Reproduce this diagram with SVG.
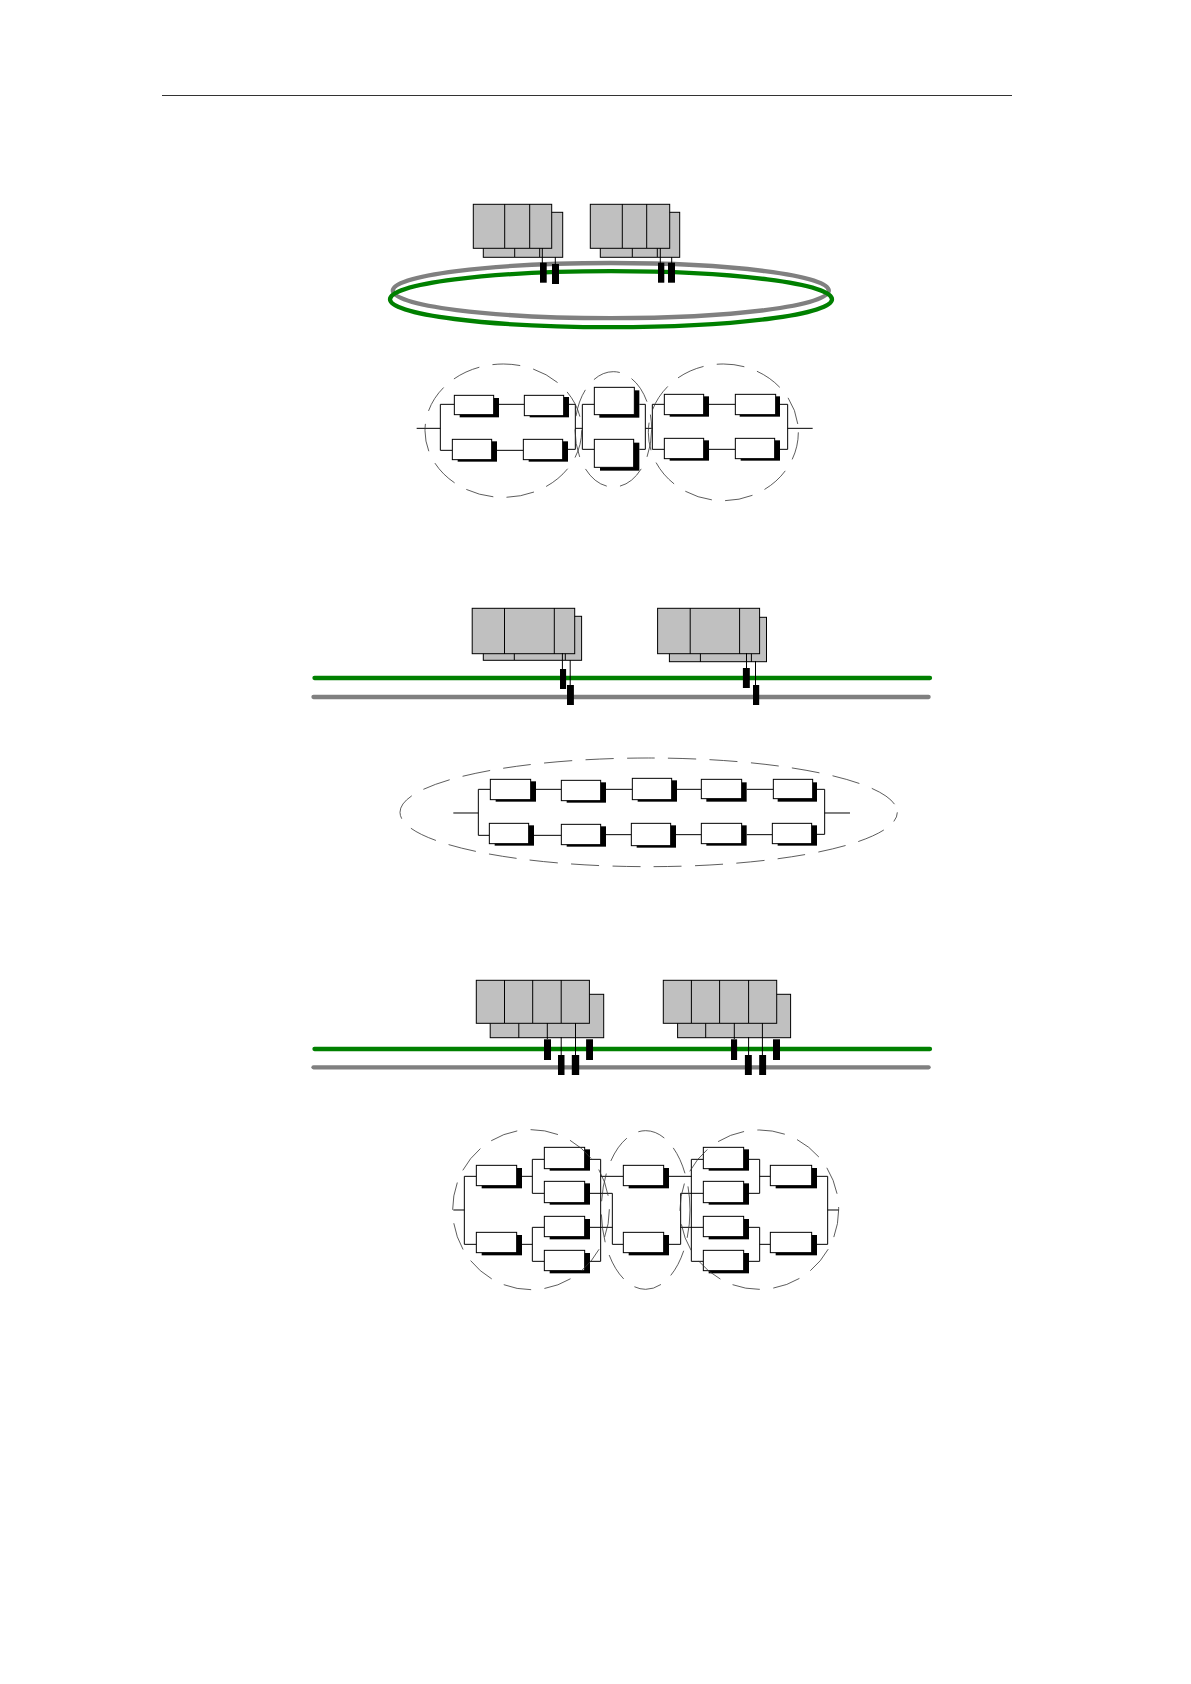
<svg xmlns="http://www.w3.org/2000/svg" width="1191" height="1684" viewBox="0 0 1191 1684">
<style>
.bg{fill:#fff}
.rule{stroke:#333;stroke-width:1;fill:none}
.mod{fill:#c0c0c0;stroke:#000;stroke-width:1}
.div{stroke:#000;stroke-width:1;fill:none}
.tap{fill:#000}
.gn{stroke:#008000;stroke-width:4.3;fill:none;stroke-linecap:round}
.gy{stroke:#808080;stroke-width:4.3;fill:none;stroke-linecap:round}
.s{fill:#000}
.b{fill:#fff;stroke:#000;stroke-width:3}
.w{stroke:#000;stroke-width:3;fill:none}
.d{stroke:#333;stroke-width:2.4;fill:none;stroke-dasharray:84 40}
</style>
<rect class="bg" width="1191" height="1684"/>
<path class="rule" d="M162 95.5H1012"/>

<g id="bus1">
<ellipse class="gy" cx="610.8" cy="290.6" rx="218" ry="27.6"/>
<ellipse class="gn" cx="611" cy="299.2" rx="221" ry="28"/>
</g>
<g id="rack1a">
<rect class="mod" x="483.3" y="212.3" width="79.4" height="45"/>
<path class="div" d="M514.7 248V257M539.7 248V257"/>
<rect class="mod" x="473.3" y="204.3" width="78.4" height="44"/>
<path class="div" d="M504.7 204V248M529.7 204V248M542.3 248V263M555.3 257V264"/>
<rect class="tap" x="540" y="262.7" width="6.7" height="20"/>
<rect class="tap" x="552" y="264" width="7" height="20"/>
</g>
<g id="rack1b">
<rect class="mod" x="600.3" y="212.3" width="79.4" height="45"/>
<path class="div" d="M632.3 248V257M657.3 248V257"/>
<rect class="mod" x="590.3" y="204.3" width="79.4" height="44"/>
<path class="div" d="M622.3 204V248M646.7 204V248M660.3 248V263M671.7 257V264"/>
<rect class="tap" x="658" y="262.7" width="6.3" height="20"/>
<rect class="tap" x="668" y="262.7" width="7" height="20"/>
</g>

<g id="schema1" transform="matrix(.33333 0 0 .33333 410 355)">
<g id="connectors1"><path class="w" d="M20 220H91M91 148V286M91 148H133M267 148H343M477 148H496M91 286H127M261 286H340M474 283H496M496 148V283M496 220H517M517 148V283M517 148H553M517 283H553M688 148H706M688 283H706M706 148V283M706 220H727M727 148V283M727 148H763M727 283H763M897 148H976M897 283H976M1110 148H1133M1110 283H1133M1133 148V283M1133 220H1208"/></g>
<g id="n1a"><rect class="s" x="149" y="129" width="118" height="58"/><rect class="b" x="133" y="121" width="118" height="58"/></g>
<g id="n1b"><rect class="s" x="359" y="126" width="118" height="61"/><rect class="b" x="343" y="121" width="118" height="61"/></g>
<g id="n1c"><rect class="s" x="143" y="259" width="118" height="61"/><rect class="b" x="127" y="253" width="118" height="61"/></g>
<g id="n1d"><rect class="s" x="356" y="259" width="118" height="61"/><rect class="b" x="340" y="253" width="118" height="61"/></g>
<g id="n1e"><rect class="s" x="568" y="106" width="120" height="82"/><rect class="b" x="553" y="97" width="120" height="82"/></g>
<g id="n1f"><rect class="s" x="570" y="263" width="118" height="84"/><rect class="b" x="553" y="253" width="118" height="84"/></g>
<g id="n1g"><rect class="s" x="779" y="124" width="118" height="61"/><rect class="b" x="763" y="118" width="118" height="61"/></g>
<g id="n1h"><rect class="s" x="989" y="124" width="121" height="61"/><rect class="b" x="976" y="118" width="121" height="61"/></g>
<g id="n1i"><rect class="s" x="779" y="256" width="118" height="61"/><rect class="b" x="763" y="250" width="118" height="61"/></g>
<g id="n1j"><rect class="s" x="992" y="256" width="118" height="61"/><rect class="b" x="976" y="250" width="118" height="61"/></g>
<g id="zones1">
<ellipse class="d" cx="280" cy="227" rx="235" ry="200"/>
<ellipse class="d" cx="610" cy="223" rx="115" ry="173"/>
<ellipse class="d" cx="940" cy="232" rx="225" ry="205"/>
</g>
</g>

<g id="bus2">
<path class="gn" d="M314.5 678H930"/>
<path class="gy" d="M313.5 697H928.6"/>
</g>
<g id="rack2a">
<rect class="mod" x="483.3" y="616.3" width="98.3" height="44"/>
<path class="div" d="M514.3 653V660M565.3 653V660"/>
<rect class="mod" x="472.2" y="608.3" width="102.5" height="45.4"/>
<path class="div" d="M504.5 608V654M554.3 608V654M562.4 653V669M570.2 660V685"/>
<rect class="tap" x="560" y="669" width="6.1" height="20"/>
<rect class="tap" x="567" y="685" width="6.9" height="20"/>
</g>
<g id="rack2b">
<rect class="mod" x="669.4" y="617.3" width="97.1" height="44.4"/>
<path class="div" d="M700.4 653V662M751.4 653V662"/>
<rect class="mod" x="657.6" y="608.3" width="102" height="45.4"/>
<path class="div" d="M690.2 608V654M739.6 608V654M746.5 653V668M755.5 661V685"/>
<rect class="tap" x="742.9" y="668" width="6.9" height="20"/>
<rect class="tap" x="753" y="685" width="6.2" height="20"/>
</g>

<g id="schema2" transform="matrix(.33333 0 0 .33333 390 750)">
<g id="connectors2"><path class="w" d="M190 189H265M265 118V256M265 118H301M438 118H514M648 118H727M861 118H934M1070 118H1150M1281 118H1304M265 256H298M432 256H514M648 254H724M858 254H934M1070 254H1147M1281 253H1304M1304 118V253M1304 189H1380"/></g>
<g id="n2a"><rect class="s" x="317" y="94" width="121" height="61"/><rect class="b" x="301" y="88" width="121" height="61"/></g>
<g id="n2b"><rect class="s" x="530" y="97" width="118" height="61"/><rect class="b" x="514" y="91" width="118" height="61"/></g>
<g id="n2c"><rect class="s" x="743" y="91" width="118" height="64"/><rect class="b" x="727" y="85" width="118" height="64"/></g>
<g id="n2d"><rect class="s" x="949" y="97" width="121" height="58"/><rect class="b" x="934" y="88" width="121" height="58"/></g>
<g id="n2e"><rect class="s" x="1163" y="97" width="118" height="58"/><rect class="b" x="1150" y="88" width="118" height="58"/></g>
<g id="n2f"><rect class="s" x="314" y="226" width="118" height="61"/><rect class="b" x="298" y="220" width="118" height="61"/></g>
<g id="n2g"><rect class="s" x="530" y="229" width="118" height="61"/><rect class="b" x="514" y="223" width="118" height="61"/></g>
<g id="n2h"><rect class="s" x="740" y="226" width="118" height="67"/><rect class="b" x="724" y="220" width="118" height="67"/></g>
<g id="n2i"><rect class="s" x="949" y="226" width="121" height="61"/><rect class="b" x="934" y="220" width="121" height="61"/></g>
<g id="n2j"><rect class="s" x="1163" y="226" width="118" height="61"/><rect class="b" x="1147" y="220" width="118" height="61"/></g>
<g id="zones2"><ellipse class="d" cx="776" cy="187" rx="746" ry="163" stroke-dashoffset="54"/></g>
</g>

<g id="bus3">
<path class="gn" d="M314.5 1049H930"/>
<path class="gy" d="M313.5 1067.3H928.6"/>
</g>
<g id="rack3a">
<rect class="mod" x="490.2" y="994.3" width="113.5" height="43.4"/>
<path class="div" d="M518.8 1023V1038"/>
<rect class="mod" x="476.3" y="980.3" width="113.1" height="43"/>
<path class="div" d="M504.5 980V1023M532.7 980V1023M561.2 980V1023M547.3 1023V1039M561.2 1037V1055M575.5 1023V1055"/>
<rect class="tap" x="544" y="1039.3" width="7" height="20.7"/>
<rect class="tap" x="558" y="1055" width="6.5" height="20"/>
<rect class="tap" x="571.8" y="1055" width="7.4" height="20"/>
<rect class="tap" x="586.1" y="1039.3" width="6.9" height="20.7"/>
</g>
<g id="rack3b">
<rect class="mod" x="677.6" y="994.3" width="113" height="43.4"/>
<path class="div" d="M705.7 1023V1038"/>
<rect class="mod" x="663.3" y="980.3" width="113.4" height="43"/>
<path class="div" d="M691.4 980V1023M719.6 980V1023M748.6 980V1023M734.3 1023V1039M748.6 1037V1055M762.4 1023V1055"/>
<rect class="tap" x="731" y="1039.3" width="6.1" height="20.7"/>
<rect class="tap" x="744.9" y="1055" width="6.9" height="20"/>
<rect class="tap" x="759.2" y="1055" width="6.9" height="20"/>
<rect class="tap" x="773" y="1039.3" width="7" height="20.7"/>
</g>

<g id="schema3" transform="matrix(.33333 0 0 .33333 445 1120)">
<g id="connectors3"><path class="w" d="M25 270H58M58 169V373M58 169H94M58 373H94M231 169H262M231 373H262M262 118V220M262 118H298M262 220H298M262 322V424M262 322H298M262 424H298M435 118H467M435 424H467M467 118V424M467 169H535M435 220H502M435 322H502M502 220V373M502 373H535M672 169H739M739 118V424M739 118H775M739 424H775M672 373H707M707 220V373M707 220H775M707 322H775M912 118H944M912 220H944M944 118V220M944 169H976M912 322H944M912 424H944M944 322V424M944 373H976M1116 169H1148M1116 373H1148M1148 169V373M1148 270H1182"/></g>
<g id="n3a"><rect class="s" x="110" y="144" width="121" height="61"/><rect class="b" x="94" y="136" width="121" height="61"/></g>
<g id="n3b"><rect class="s" x="110" y="345" width="121" height="61"/><rect class="b" x="94" y="337" width="121" height="61"/></g>
<g id="n3c"><rect class="s" x="314" y="88" width="121" height="64"/><rect class="b" x="298" y="82" width="121" height="64"/></g>
<g id="n3d"><rect class="s" x="314" y="190" width="121" height="64"/><rect class="b" x="298" y="184" width="121" height="64"/></g>
<g id="n3e"><rect class="s" x="314" y="297" width="121" height="61"/><rect class="b" x="298" y="289" width="121" height="61"/></g>
<g id="n3f"><rect class="s" x="314" y="399" width="121" height="61"/><rect class="b" x="298" y="391" width="121" height="61"/></g>
<g id="n3g"><rect class="s" x="551" y="144" width="121" height="61"/><rect class="b" x="535" y="136" width="121" height="61"/></g>
<g id="n3h"><rect class="s" x="551" y="345" width="121" height="61"/><rect class="b" x="535" y="337" width="121" height="61"/></g>
<g id="n3i"><rect class="s" x="791" y="88" width="121" height="64"/><rect class="b" x="775" y="82" width="121" height="64"/></g>
<g id="n3j"><rect class="s" x="791" y="190" width="121" height="64"/><rect class="b" x="775" y="184" width="121" height="64"/></g>
<g id="n3k"><rect class="s" x="791" y="297" width="121" height="61"/><rect class="b" x="775" y="289" width="121" height="61"/></g>
<g id="n3l"><rect class="s" x="791" y="399" width="121" height="61"/><rect class="b" x="775" y="391" width="121" height="61"/></g>
<g id="n3m"><rect class="s" x="992" y="144" width="124" height="61"/><rect class="b" x="976" y="136" width="124" height="61"/></g>
<g id="n3n"><rect class="s" x="992" y="345" width="124" height="61"/><rect class="b" x="976" y="337" width="124" height="61"/></g>
<g id="zones3">
<ellipse class="d" cx="258" cy="269" rx="235" ry="240"/>
<ellipse class="d" cx="602" cy="270" rx="133" ry="238"/>
<ellipse class="d" cx="943" cy="269" rx="238" ry="239"/>
</g>
</g>
</svg>
